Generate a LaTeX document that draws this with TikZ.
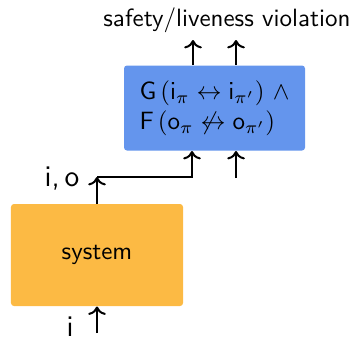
\documentclass[tikz,border=0pt]{standalone}
\usepackage{amssymb}
\usetikzlibrary{arrows.meta}
\definecolor{specblue}{RGB}{100,149,237}
\definecolor{sysorange}{RGB}{252,186,68}
\tikzset{
  box/.style={rounded corners=1.2pt, inner sep=0pt, font=\sffamily},
  flow/.style={line width=0.8pt, ->},
  lbl/.style={font=\sffamily\large, inner sep=0pt}
}
\begin{document}
\begin{tikzpicture}[x=0.4pt, y=-0.4pt]
  \useasboundingbox (0,0) rectangle (357,342);
  % monitor specification
  \node[box, fill=specblue, minimum width=72.4pt, minimum height=34pt, align=left]
    (spec) at (214.5,108)
    {$\mathsf{G}\,(\mathsf{i}_\pi \leftrightarrow \mathsf{i}_{\pi'})\ \wedge$\\
     $\mathsf{F}\,(\mathsf{o}_\pi \not\leftrightarrow \mathsf{o}_{\pi'})$};
  % system under test
  \node[box, fill=sysorange, minimum width=68.8pt, minimum height=40.8pt]
    (sys) at (97,255) {system};
  % free ends of the connectors
  \coordinate (in) at (97,333);
  \coordinate (bend) at (97,177);
  \coordinate (corner) at (192,177);
  \coordinate (extra) at (236,178);
  \coordinate (out1) at (193,40);
  \coordinate (out2) at (236,40);
  \node[font=\sffamily, inner sep=0pt] (verdict) at (227,20) {safety/liveness violation};
  \node[lbl] (ilbl) at (70,327) {i};
  \node[lbl] (iolbl) at (62,179) {i,\,o};
  % connectors
  \draw[flow] (in) -- (sys.south);
  \draw[flow] (sys.north) -- (bend);
  \draw[flow] (bend) -- (corner) -- (corner |- spec.south);
  \draw[flow] (extra) -- (extra |- spec.south);
  \draw[flow] (out1 |- spec.north) -- (out1);
  \draw[flow] (out2 |- spec.north) -- (out2);
\end{tikzpicture}
\end{document}
